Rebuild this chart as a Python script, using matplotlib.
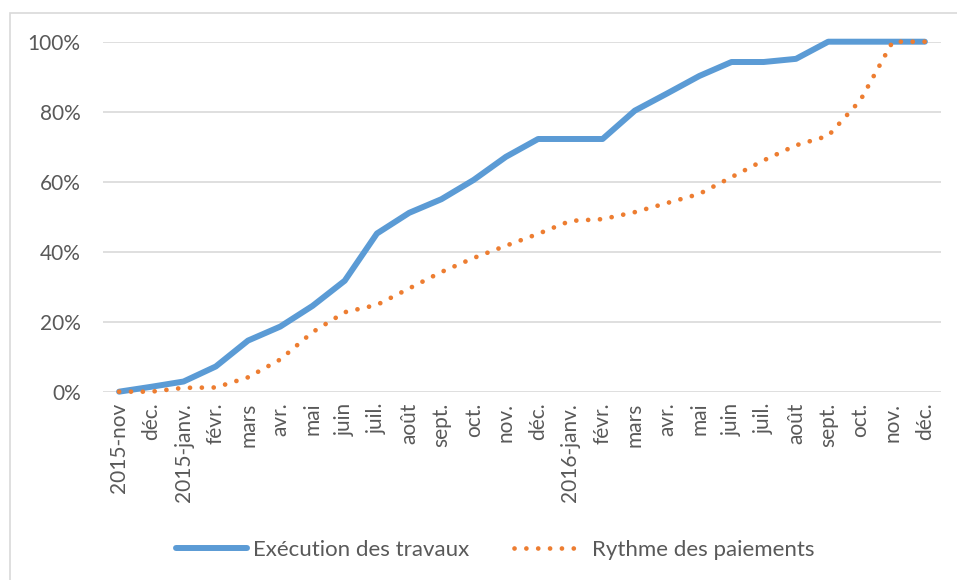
import numpy as np
import matplotlib.pyplot as plt
from matplotlib.patches import Rectangle
from matplotlib.ticker import FuncFormatter

plt.rcParams['font.family'] = ['Lato', 'DejaVu Sans']

mois = ['2015-nov', 'déc.', '2015-janv.', 'févr.', 'mars', 'avr.', 'mai', 'juin',
        'juil.', 'août', 'sept.', 'oct.', 'nov.', 'déc.', '2016-janv.', 'févr.',
        'mars', 'avr.', 'mai', 'juin', 'juil.', 'août', 'sept.', 'oct.', 'nov.', 'déc.']
execution = [0, 1.4, 2.9, 7.2, 14.6, 18.6, 24.5, 31.7, 45.2, 51.1, 55.0, 60.5, 67.1,
             72.2, 72.2, 72.2, 80.3, 85.2, 90.2, 94.2, 94.2, 95.1, 100, 100, 100, 100]
paiements = [0, 0, 1.1, 1.2, 4.1, 9.2, 17.0, 22.7, 24.8, 29.5, 34.2, 38.2, 41.7,
             45.1, 48.8, 49.3, 51.3, 53.9, 56.5, 61.3, 66.1, 70.4, 73.1, 83.3, 100, 100]

gris = '#595959'
x = np.arange(len(mois))

fig = plt.figure(figsize=(9.57, 5.8), dpi=100)
ax = fig.add_axes([0.1076, 0.3247, 0.8757, 0.6034])

ax.plot(x, execution, color='#5B9BD5', lw=4.3, solid_capstyle='round',
        label='Exécution des travaux', clip_on=False, zorder=3)
ax.plot(x, paiements, color='#ED7D31', lw=3.4, dashes=(0.01, 2.5),
        dash_capstyle='round', label='Rythme des paiements', clip_on=False, zorder=3)

ax.set_xlim(-0.5, len(mois) - 0.5)
ax.set_ylim(0, 100)
ax.set_yticks(np.arange(0, 101, 20))
ax.yaxis.set_major_formatter(FuncFormatter(lambda v, p: '%d%%' % v))
ax.set_xticks(x)
ax.set_xticklabels(mois, rotation=90, va='top', ha='center')
ax.tick_params(axis='both', length=0, colors=gris, labelsize=15)
ax.tick_params(axis='y', pad=16)
ax.tick_params(axis='x', pad=8)
ax.grid(axis='y', color='#D9D9D9', lw=1.2)
ax.set_axisbelow(True)
for s in ax.spines.values():
    s.set_visible(False)

leg = fig.legend(loc='center', bbox_to_anchor=(495 / 957, 1 - 550 / 580), ncol=2,
                 frameon=False, fontsize=16, handlelength=3.2, handletextpad=0.3,
                 columnspacing=2.0)
for t in leg.get_texts():
    t.set_color(gris)

# cadre du graphique
fig.patches.append(Rectangle((10 / 957, -0.1), 1.2, 1.1 - 12.5 / 580,
                             transform=fig.transFigure, fill=False,
                             edgecolor='#D9D9D9', lw=1.2))

fig.savefig('out.png', dpi=100)
